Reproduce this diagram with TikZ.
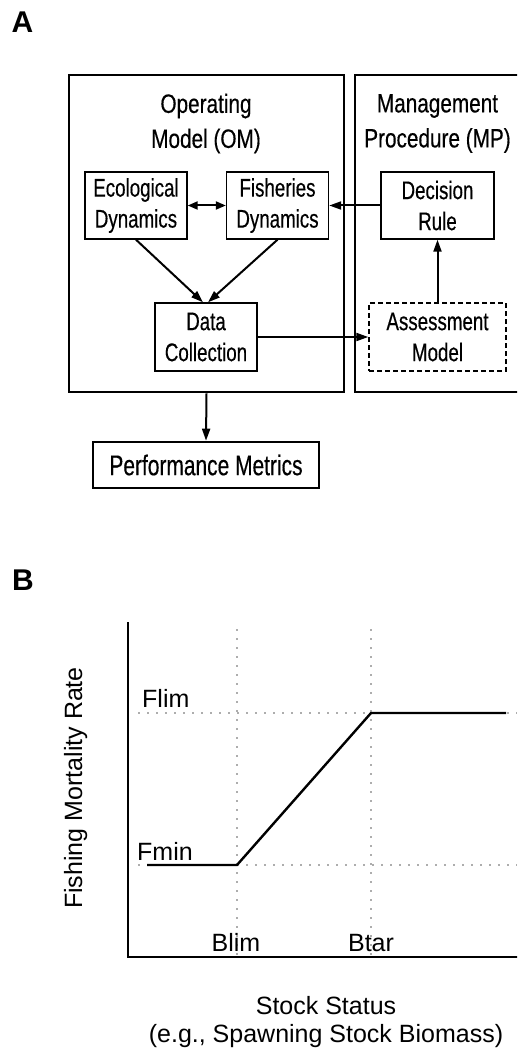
\documentclass[tikz,border=0pt]{standalone}
\usepackage{fontspec}
\setmainfont{Liberation Sans}
\newfontfamily\condfont[FakeStretch=0.735, FakeBold=0.4]{Liberation Sans}
\newfontfamily\ttlfont[FakeStretch=0.783, FakeBold=0.4]{Liberation Sans}
\usetikzlibrary{arrows.meta, positioning}

\begin{document}
\begin{tikzpicture}[x=1pt, y=-1pt,
          outer/.style={draw, line width=2.6pt, inner sep=0pt},
          box/.style={draw, line width=1.4pt, minimum width=102pt,
                      minimum height=67pt, inner sep=0pt, align=center,
                      font=\condfont\fontsize{25.5}{31}\selectfont},
          ttl/.style={align=center, font=\ttlfont\fontsize{26.5}{35}\selectfont},
          lbl/.style={inner sep=0pt, font=\fontsize{25}{28}\selectfont},
          tag/.style={font=\bfseries\fontsize{30}{30}\selectfont},
          arr/.style={-{Triangle[length=12pt, width=8pt]}, line width=2pt},
          gridln/.style={draw=black!32, line width=2.4pt, dash pattern=on 2.4pt off 6.6pt},
          axln/.style={line width=2.4pt}
        ]
        \clip (0,0) rectangle (517,1048);

        % Panel A: simulation loop
        \node[tag] (pa) at (22.5,22.5) {A};

        \node[outer, minimum width=275pt, minimum height=317pt] (om) at (206.5,233.5) {};
        \node[outer, minimum width=205pt, minimum height=317pt] (mp) at (457.5,233.5) {};
        \node[ttl] (omt) at (206,123.5) {Operating\\Model (OM)};
        \node[ttl] (mpt) at (437.5,123.5) {Management\\Procedure (MP)};

        \node[box]                        (eco)    at (136,205.5) {Ecological\\Dynamics};
        \node[box]                        (fish)   at (277.5,205.5) {Fisheries\\Dynamics};
        \node[box, minimum width=113pt]   (dec)    at (437.5,205.5) {Decision\\Rule};
        \node[box, minimum height=68pt]   (data)   at (206,337) {Data\\Collection};
        \node[box, dash pattern=on 5pt off 3pt, minimum width=137pt,
              minimum height=68pt]        (assess) at (437.5,337) {Assessment\\Model};
        \node[box, line width=2.6pt, minimum width=226pt, minimum height=46pt,
              font=\condfont\fontsize{28.5}{31}\selectfont]
              (perf) at (206,465) {Performance Metrics};

        \draw[arr, {Triangle[length=10pt, width=8pt]}-{Triangle[length=10pt, width=8pt]}]
              (eco) -- (fish);
        \draw[arr] (dec) -- (fish);
        \draw[arr] (eco.south) -- ([xshift=-3pt]data.north);
        \draw[arr] (fish.south) -- ([xshift=2pt]data.north);
        \draw[arr] (data) -- (assess);
        \draw[arr] (assess) -- (dec);
        \draw[arr] (om.south) -- (perf.north);

        % Panel B: harvest control rule
        \node[tag] (pb) at (23,580) {B};

        \coordinate (org)  at (128,957);
        \coordinate (ytop) at (128,622);
        \coordinate (xend) at (530,957);
        \coordinate (blim) at (237,865);
        \coordinate (btar) at (371,713);

        \draw[gridln] (237,629) -- (237,957);
        \draw[gridln] (371,629) -- (371,957);
        \draw[gridln] (138,713) -- (517,713);
        \draw[gridln] (138,865) -- (517,865);
        \draw[axln] (ytop) -- (org) -- (xend);
        \draw[line width=2.4pt] (147,865) -- (blim) -- (btar) -- (506,713);

        \node[lbl, anchor=base west] (flim)  at (142,707) {Flim};
        \node[lbl, anchor=base west] (fmin)  at (137,860) {Fmin};
        \node[lbl, anchor=base]      (blimt) at (236,951) {Blim};
        \node[lbl, anchor=base]      (btart) at (371,951) {Btar};
        \node[lbl, rotate=90, anchor=base] (ytl) at (82,788) {Fishing Mortality Rate};
        \node[lbl, align=center] (xtl) at (326,1022.5)
              {Stock Status\\(e.g., Spawning Stock Biomass)};
      \end{tikzpicture}
\end{document}
